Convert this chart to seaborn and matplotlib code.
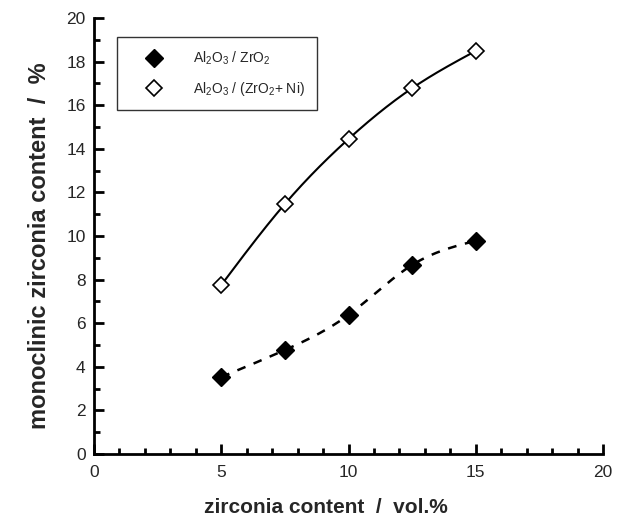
import numpy as np
import pandas as pd
import matplotlib
matplotlib.use("Agg")
import matplotlib.pyplot as plt
import seaborn as sns
from matplotlib.ticker import MultipleLocator

# data
zro2_content = [5, 7.5, 10, 12.5, 15]
al2o3_zro2 = [3.53, 4.77, 6.38, 8.67, 9.78]
al2o3_zro2_ni = [7.75, 11.47, 14.45, 16.78, 18.49]
label_a = r"Al$_2$O$_3$ / ZrO$_2$"
label_b = r"Al$_2$O$_3$ / (ZrO$_2$+ Ni)"


def natural_spline(x, y, n=200):
    x = np.asarray(x, float)
    y = np.asarray(y, float)
    k = len(x)
    h = np.diff(x)
    A = np.zeros((k, k))
    r = np.zeros(k)
    A[0, 0] = 1
    A[-1, -1] = 1
    for i in range(1, k - 1):
        A[i, i - 1] = h[i - 1]
        A[i, i] = 2 * (h[i - 1] + h[i])
        A[i, i + 1] = h[i]
        r[i] = 6 * ((y[i + 1] - y[i]) / h[i] - (y[i] - y[i - 1]) / h[i - 1])
    M = np.linalg.solve(A, r)
    xs = np.linspace(x[0], x[-1], n)
    idx = np.clip(np.searchsorted(x, xs) - 1, 0, k - 2)
    x0, x1 = x[idx], x[idx + 1]
    hh = x1 - x0
    a = (x1 - xs) / hh
    b = (xs - x0) / hh
    ys = (a * y[idx] + b * y[idx + 1]
          + ((a ** 3 - a) * M[idx] + (b ** 3 - b) * M[idx + 1]) * hh ** 2 / 6)
    return xs, ys


sns.set_style("ticks")
plt.rcParams["font.family"] = ["Liberation Sans", "DejaVu Sans"]
plt.rcParams["mathtext.fontset"] = "custom"
plt.rcParams["mathtext.rm"] = "Liberation Sans"
plt.rcParams["mathtext.it"] = "Liberation Sans:italic"
plt.rcParams["mathtext.bf"] = "Liberation Sans:bold"
plt.rcParams["mathtext.default"] = "regular"

fig = plt.figure(figsize=(6.29, 5.28), dpi=100)
ax = fig.add_axes([94 / 629, 1 - 454 / 528, 509 / 629, 436 / 528])

xa, ya = natural_spline(zro2_content, al2o3_zro2)
xb, yb = natural_spline(zro2_content, al2o3_zro2_ni)
sns.lineplot(x=xa, y=ya, ax=ax, color="black", lw=1.8, linestyle=(0, (3.5, 3.5)),
             sort=False, estimator=None)
sns.lineplot(x=xb, y=yb, ax=ax, color="black", lw=1.5, sort=False, estimator=None)

df = pd.DataFrame({"x": zro2_content + zro2_content,
                   "y": al2o3_zro2 + al2o3_zro2_ni,
                   "s": [label_a] * 5 + [label_b] * 5})
ha = ax.plot(df.x[df.s == label_a], df.y[df.s == label_a], "D", color="black",
             ms=9, mec="black", label=label_a, zorder=5)[0]
hb = ax.plot(df.x[df.s == label_b], df.y[df.s == label_b], "D", mfc="white",
             mec="black", mew=1.2, ms=8, label=label_b, zorder=5)[0]

ax.set_xlim(0, 20)
ax.set_ylim(0, 20)
ax.xaxis.set_major_locator(MultipleLocator(5))
ax.xaxis.set_minor_locator(MultipleLocator(1))
ax.yaxis.set_major_locator(MultipleLocator(2))
ax.yaxis.set_minor_locator(MultipleLocator(1))
ax.tick_params(which="major", direction="in", length=7, width=2, labelsize=12.5,
               pad=8, color="black")
ax.tick_params(which="minor", direction="in", length=4.5, width=2, color="black")
ax.tick_params(axis="y", which="major", pad=6)
sns.despine(ax=ax)
for s in ["left", "bottom"]:
    ax.spines[s].set_linewidth(2)
    ax.spines[s].set_color("black")

ax.set_xlabel("zirconia content  /  vol.%", fontsize=15, fontweight="bold",
              va="center")
ax.xaxis.set_label_coords(0.456, -0.122)
ax.set_ylabel("monoclinic zirconia content  /  %", fontsize=17,
              fontweight="bold", va="center")
ax.yaxis.set_label_coords(-0.108, 0.477)

leg = ax.legend(
    handles=[ha, hb], loc="upper left", bbox_to_anchor=(0.045, 0.956),
    borderaxespad=0, fontsize=10, frameon=True, fancybox=False,
    edgecolor="black", handlelength=3.6, handletextpad=0.95, borderpad=0.9,
    labelspacing=0.9)
leg.get_frame().set_linewidth(1.0)

fig.savefig("out.png", dpi=100)
